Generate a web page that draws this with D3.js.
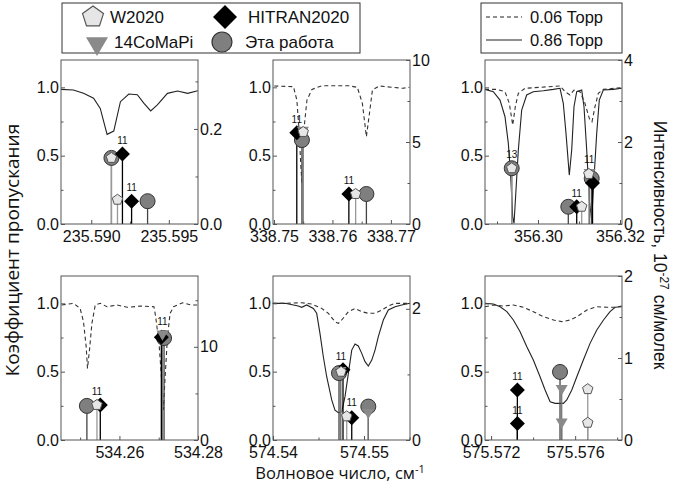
<!DOCTYPE html>
<html>
<head>
<meta charset="utf-8">
<script src="https://cdnjs.cloudflare.com/ajax/libs/d3/7.8.5/d3.min.js"></script>
<style>
  body { margin: 0; background: #fff; }
</style>
</head>
<body>
<svg id="chart" width="673" height="489"></svg>
<script>
// ---- panel 1 : 235.59 ----
const p1XRange = [235.58805, 235.59688];
const p1XTicks = [235.590, 235.595];
const p1XMinor = [235.5925];
const p1RRange = [0, 0.345];
const p1RTicks = [0, 0.2];
const p1RMinor = [0.1, 0.3];
const p1Wn = [235.58805, 235.58885, 235.5895, 235.59015, 235.59058, 235.59102, 235.59145, 235.59188, 235.59242,
  235.59297, 235.5934, 235.59383, 235.59426, 235.59491, 235.59556, 235.59621, 235.59686];
const p1Solid = [0.985, 0.980, 0.956, 0.920, 0.846, 0.656, 0.680, 0.895, 0.951, 0.946, 0.883, 0.827, 0.871,
  0.956, 0.973, 0.956, 0.975];
const p1Circle = [[235.5913, 0.139], [235.59363, 0.048]];
const p1W2020 = [[235.5913, 0.139], [235.59169, 0.051]];
const p1CoMaPi = [];
const p1Hitran = [[235.59201, 0.147], [235.5926, 0.048]];
const p1Labels = [[235.59201, 0.147, "11"], [235.5926, 0.048, "11"]];

// ---- panel 2 : 338.76 ----
const p2XRange = [338.74983, 338.77327];
const p2XTicks = [338.75, 338.76, 338.77];
const p2XMinor = [338.755, 338.765];
const p2RRange = [0, 10];
const p2RTicks = [0, 5, 10];
const p2RMinor = [2.5, 7.5];
const p2Wn = [338.75005, 338.75333, 338.75391, 338.75425, 338.7546, 338.75478, 338.7549, 338.75505, 338.75564,
  338.7565, 338.75822, 338.76052, 338.76281, 338.76426, 338.76512, 338.76581, 338.76626, 338.76684, 338.76798,
  338.77029, 338.77202, 338.77316];
const p2Dash = [1.01, 1.005, 0.907, 0.712, 0.42, 0.30, 0.42, 0.663, 0.907, 0.985, 1.012, 1.012, 1.012, 1.0,
  0.883, 0.639, 0.785, 0.98, 1.01, 1.0, 0.993, 1.0];
const p2Circle = [[338.75478, 5.12], [338.76581, 1.83]];
const p2W2020 = [[338.755, 5.61], [338.76397, 1.83]];
const p2CoMaPi = [[338.75495, 5.67]];
const p2Hitran = [[338.7539, 5.57], [338.76281, 1.83]];
const p2Labels = [[338.7539, 5.57, "11"], [338.76281, 1.83, "11"]];

// ---- panel 3 : 356.30 ----
const p3XRange = [356.28707, 356.32049];
const p3XTicks = [356.30, 356.32];
const p3XMinor = [356.29, 356.31];
const p3RRange = [0, 4];
const p3RTicks = [0, 2, 4];
const p3RMinor = [1, 3];
const p3SolidWn = [356.28707, 356.2891, 356.29073, 356.29195, 356.29276, 356.29334, 356.29383, 356.29415,
  356.29463, 356.2952, 356.29602, 356.29724, 356.29885, 356.30129, 356.30373, 356.30537, 356.30617, 356.30683,
  356.30763, 356.30822, 356.30878, 356.30944, 356.31066, 356.31122, 356.31188, 356.31251, 356.3131, 356.31349,
  356.31432, 356.31495, 356.31593, 356.31837, 356.32041];
const p3Solid = [0.985, 0.968, 0.907, 0.785, 0.590, 0.346, 0.053, 0.005, 0.249, 0.541, 0.834, 0.944, 0.968,
  0.975, 0.985, 0.993, 0.883, 0.663, 0.358, 0.541, 0.858, 0.968, 0.980, 0.858, 0.541, 0.176, 0.029, 0.249,
  0.663, 0.907, 0.980, 0.985, 0.993];
const p3DashWn = [356.28707, 356.28993, 356.29195, 356.293, 356.29383, 356.29446, 356.2952, 356.29683,
  356.30537, 356.30659, 356.3078, 356.30878, 356.31024, 356.31146, 356.31251, 356.31317, 356.3139, 356.31471,
  356.31593, 356.32041];
const p3Dash = [0.985, 0.985, 0.968, 0.883, 0.724, 0.858, 0.956, 0.993, 1.01, 0.968, 0.944, 0.98, 0.968,
  0.883, 0.773, 0.748, 0.858, 0.956, 0.985, 0.998];
const p3Circle = [[356.29359, 1.36], [356.30739, 0.42], [356.3131, 1.11]];
const p3W2020 = [[356.29359, 1.36], [356.31066, 0.42], [356.3124, 1.22]];
const p3CoMaPi = [[356.3126, 1.24]];
const p3Hitran = [[356.30944, 0.42], [356.3133, 1.0]];
const p3Labels = [[356.29359, 1.36, "13"], [356.30944, 0.42, "11"], [356.3125, 1.24, "11"]];

// ---- panel 4 : 534.26 ----
const p4XRange = [534.24513, 534.28];
const p4XTicks = [534.26, 534.28];
const p4XMinor = [534.25, 534.27];
const p4RRange = [0, 17.6];
const p4RTicks = [0, 10];
const p4RMinor = [5, 15];
const p4Wn = [534.24531, 534.24828, 534.25, 534.25085, 534.25154, 534.25187, 534.25238, 534.253, 534.25385,
  534.25513, 534.25685, 534.25941, 534.26197, 534.26538, 534.26879, 534.26923, 534.27008, 534.27069, 534.2712,
  534.27154, 534.27223, 534.2729, 534.27377, 534.27608, 534.2782, 534.27992];
const p4Dash = [0.988, 1.0, 0.963, 0.866, 0.683, 0.524, 0.658, 0.853, 0.988, 1.0, 0.975, 0.988, 0.971, 0.98,
  0.975, 0.902, 0.707, 0.463, 0.219, 0.415, 0.756, 0.927, 0.975, 1.004, 0.988, 0.988];
const p4Circle = [[534.25172, 3.66], [534.27136, 10.94]];
const p4W2020 = [[534.25428, 3.76]];
const p4CoMaPi = [[534.27095, 11.29]];
const p4Hitran = [[534.25513, 3.76], [534.27067, 11.04]];
const p4Labels = [[534.25428, 3.76, "11"], [534.27095, 11.29, "11"]];

// ---- panel 5 : 574.55 ----
const p5XRange = [574.54, 574.55505];
const p5XTicks = [574.54, 574.55];
const p5XMinor = [574.545, 574.555];
const p5RRange = [0, 2.5];
const p5RTicks = [0, 2];
const p5RMinor = [1];
const p5SolidWn = [574.53997, 574.54132, 574.54278, 574.54315, 574.5437, 574.54443, 574.5448, 574.54516,
  574.54553, 574.5459, 574.54645, 574.54681, 574.54718, 574.54755, 574.54791, 574.54828, 574.54865, 574.54901,
  574.54937, 574.54975, 574.55011, 574.55047, 574.55085, 574.55121, 574.55157, 574.55212, 574.55267, 574.55341,
  574.55414, 574.55505];
const p5Solid = [1.0, 1.0, 0.98, 0.971, 0.988, 0.963, 0.927, 0.78, 0.609, 0.463, 0.293, 0.219, 0.2, 0.207,
  0.317, 0.488, 0.658, 0.702, 0.688, 0.634, 0.573, 0.541, 0.585, 0.658, 0.756, 0.878, 0.951, 0.975, 0.988, 1.0];
const p5DashWn = [574.53997, 574.54132, 574.54315, 574.54425, 574.54535, 574.54608, 574.54681, 574.54718,
  574.54755, 574.54828, 574.54901, 574.54975, 574.55047, 574.55121, 574.55194, 574.55267, 574.55341, 574.55505];
const p5Dash = [1.0, 1.0, 1.004, 0.995, 0.963, 0.927, 0.866, 0.853, 0.878, 0.939, 0.963, 0.939, 0.927, 0.927,
  0.951, 0.98, 1.0, 1.0];
const p5Circle = [[574.54725, 1.02], [574.55047, 0.51]];
const p5W2020 = [[574.54747, 1.04], [574.5481, 0.36]];
const p5CoMaPi = [[574.5474, 1.05], [574.55047, 0.41]];
const p5Hitran = [[574.54769, 1.07], [574.54865, 0.34]];
const p5Labels = [[574.54747, 1.07, "11"], [574.54865, 0.36, "11"]];

// ---- panel 6 : 575.575 ----
const p6XRange = [575.57171, 575.57823];
const p6XTicks = [575.572, 575.576];
const p6XMinor = [575.574, 575.578];
const p6RRange = [0, 2];
const p6RTicks = [0, 1, 2];
const p6RMinor = [0.5, 1.5];
const p6SolidWn = [575.57171, 575.57211, 575.57243, 575.57275, 575.57306, 575.57338, 575.5737, 575.57401,
  575.57433, 575.57457, 575.57481, 575.57505, 575.57544, 575.5756, 575.57584, 575.57608, 575.57639, 575.57671,
  575.57703, 575.57735, 575.57766, 575.5779, 575.57822];
const p6Solid = [1.0, 0.995, 0.975, 0.939, 0.878, 0.792, 0.683, 0.585, 0.463, 0.366, 0.28, 0.268, 0.268, 0.293,
  0.366, 0.463, 0.585, 0.707, 0.805, 0.878, 0.939, 0.971, 0.975];
const p6DashWn = [575.57171, 575.57211, 575.57259, 575.57306, 575.57354, 575.57401, 575.57449, 575.57497,
  575.57537, 575.57576, 575.57608, 575.57656, 575.57703, 575.57751, 575.5779, 575.57822];
const p6Dash = [0.975, 0.988, 0.98, 0.988, 0.971, 0.939, 0.902, 0.878, 0.866, 0.878, 0.902, 0.951, 0.975,
  0.971, 0.971, 0.98];
const p6Circle = [[575.57528, 0.83]];
const p6W2020 = [[575.5766, 0.62], [575.5766, 0.21]];
const p6CoMaPi = [[575.57536, 0.62], [575.57536, 0.21]];
const p6Hitran = [[575.57325, 0.61], [575.57325, 0.20]];
const p6Labels = [[575.57325, 0.61, "11"], [575.57325, 0.20, "11"]];

const transTicks = [0, 0.5, 1.0];
const transMinor = [0.25, 0.75];
const legendNames = ["W2020", "HITRAN2020", "14CoMaPi", "Эта работа"];
const pressureNames = ["0.06 Торр", "0.86 Торр"];

const svg = d3.select("#chart");
const tickFont = "'Liberation Sans', Arial, sans-serif";
const labelFont = "'Open Sans', 'Noto Sans', sans-serif";

const panels = [
  { left: 61, top: 60, xDom: p1XRange, xT: p1XTicks, xM: p1XMinor, xF: ".3f", rDom: p1RRange, rT: p1RTicks, rM: p1RMinor, rF: ".1f",
    lines: [[p1Wn, p1Solid, false]], c: p1Circle, w: p1W2020, t: p1CoMaPi, h: p1Hitran, lab: p1Labels },
  { left: 273, top: 60, xDom: p2XRange, xT: p2XTicks, xM: p2XMinor, xF: ".2f", rDom: p2RRange, rT: p2RTicks, rM: p2RMinor, rF: "d",
    lines: [[p2Wn, p2Dash, true]], c: p2Circle, w: p2W2020, t: p2CoMaPi, h: p2Hitran, lab: p2Labels },
  { left: 485, top: 60, xDom: p3XRange, xT: p3XTicks, xM: p3XMinor, xF: ".2f", rDom: p3RRange, rT: p3RTicks, rM: p3RMinor, rF: "d",
    lines: [[p3SolidWn, p3Solid, false], [p3DashWn, p3Dash, true]], c: p3Circle, w: p3W2020, t: p3CoMaPi, h: p3Hitran, lab: p3Labels },
  { left: 61, top: 276, xDom: p4XRange, xT: p4XTicks, xM: p4XMinor, xF: ".2f", rDom: p4RRange, rT: p4RTicks, rM: p4RMinor, rF: "d",
    lines: [[p4Wn, p4Dash, true]], c: p4Circle, w: p4W2020, t: p4CoMaPi, h: p4Hitran, lab: p4Labels },
  { left: 273, top: 276, xDom: p5XRange, xT: p5XTicks, xM: p5XMinor, xF: ".2f", rDom: p5RRange, rT: p5RTicks, rM: p5RMinor, rF: "d",
    lines: [[p5SolidWn, p5Solid, false], [p5DashWn, p5Dash, true]], c: p5Circle, w: p5W2020, t: p5CoMaPi, h: p5Hitran, lab: p5Labels },
  { left: 485, top: 276, xDom: p6XRange, xT: p6XTicks, xM: p6XMinor, xF: ".3f", rDom: p6RRange, rT: p6RTicks, rM: p6RMinor, rF: "d",
    lines: [[p6SolidWn, p6Solid, false], [p6DashWn, p6Dash, true]], c: p6Circle, w: p6W2020, t: p6CoMaPi, h: p6Hitran, lab: p6Labels }
];
const PW = 137, PH = 164;

function pentagon(r) {
  const pts = d3.range(5).map(i => {
    const a = -Math.PI / 2 + i * 2 * Math.PI / 5;
    return [r * Math.cos(a), r * Math.sin(a)];
  });
  return "M" + pts.map(p => p[0].toFixed(2) + "," + p[1].toFixed(2)).join("L") + "Z";
}
function diamond(r) { return `M0,${-r}L${r},0L0,${r}L${-r},0Z`; }
function triDown(r) { return `M${-r},${-r * 0.7}L${r},${-r * 0.7}L0,${r}Z`; }

const markStyle = {
  c: { stem: "#444", fill: "#7f7f7f", stroke: "#333" },
  h: { stem: "#000", fill: "#000", stroke: "#000" },
  t: { stem: "#777", fill: "#8a8a8a", stroke: "#8a8a8a" },
  w: { stem: "#999", fill: "#e6e6e6", stroke: "#555" }
};

panels.forEach(p => {
  const x = d3.scaleLinear().domain(p.xDom).range([p.left, p.left + PW]);
  const yL = d3.scaleLinear().domain([0, 1.2]).range([p.top + PH, p.top]);
  const yR = d3.scaleLinear().domain(p.rDom).range([p.top + PH, p.top]);
  const g = svg.append("g");

  // transmission curves
  p.lines.forEach(([xs, ys, dashed]) => {
    const line = d3.line().x((d, i) => x(xs[i])).y(d => yL(d));
    g.append("path").datum(ys).attr("d", line)
      .attr("fill", "none").attr("stroke", dashed ? "#333" : "#222")
      .attr("stroke-width", 1.1)
      .attr("stroke-dasharray", dashed ? "4,3" : null);
  });

  // stems
  ["c", "w", "t", "h"].forEach(k => {
    g.selectAll(null).data(p[k]).enter().append("line")
      .attr("x1", d => x(d[0])).attr("x2", d => x(d[0]))
      .attr("y1", yR(0)).attr("y2", d => yR(d[1]))
      .attr("stroke", markStyle[k].stem).attr("stroke-width", 1.3);
  });

  // markers
  g.selectAll(null).data(p.c).enter().append("circle")
    .attr("cx", d => x(d[0])).attr("cy", d => yR(d[1])).attr("r", 7.5)
    .attr("fill", markStyle.c.fill).attr("stroke", markStyle.c.stroke).attr("stroke-width", 1);
  g.selectAll(null).data(p.h).enter().append("path")
    .attr("d", diamond(7.5)).attr("transform", d => `translate(${x(d[0])},${yR(d[1])})`)
    .attr("fill", "#000");
  g.selectAll(null).data(p.t).enter().append("path")
    .attr("d", triDown(6)).attr("transform", d => `translate(${x(d[0])},${yR(d[1])})`)
    .attr("fill", markStyle.t.fill);
  g.selectAll(null).data(p.w).enter().append("path")
    .attr("d", pentagon(5.5)).attr("transform", d => `translate(${x(d[0])},${yR(d[1])})`)
    .attr("fill", markStyle.w.fill).attr("stroke", markStyle.w.stroke).attr("stroke-width", 1);

  g.selectAll(null).data(p.lab).enter().append("text")
    .attr("x", d => x(d[0])).attr("y", d => yR(d[1]) - 10)
    .attr("text-anchor", "middle")
    .attr("font-family", tickFont).attr("font-size", 10).attr("fill", "#111")
    .text(d => d[2]);

  // frame
  g.append("rect").attr("x", p.left).attr("y", p.top).attr("width", PW).attr("height", PH)
    .attr("fill", "none").attr("stroke", "#555").attr("stroke-width", 1);

  // axes
  g.append("g").attr("transform", `translate(0,${p.top + PH})`)
    .call(d3.axisBottom(x).tickValues(p.xT).tickSize(-4).tickSizeOuter(0).tickPadding(7).tickFormat(d3.format(p.xF)));
  g.append("g").attr("transform", `translate(0,${p.top + PH})`)
    .call(d3.axisBottom(x).tickValues(p.xM).tickSize(-2.5).tickSizeOuter(0).tickFormat(""));
  g.append("g").attr("transform", `translate(${p.left},0)`)
    .call(d3.axisLeft(yL).tickValues(transTicks).tickSize(-4).tickSizeOuter(0).tickPadding(2).tickFormat(d3.format(".1f")));
  g.append("g").attr("transform", `translate(${p.left},0)`)
    .call(d3.axisLeft(yL).tickValues(transMinor).tickSize(-2.5).tickSizeOuter(0).tickFormat(""));
  g.append("g").attr("transform", `translate(${p.left + PW},0)`)
    .call(d3.axisRight(yR).tickValues(p.rT).tickSize(-4).tickSizeOuter(0).tickPadding(2).tickFormat(d3.format(p.rF)));
  g.append("g").attr("transform", `translate(${p.left + PW},0)`)
    .call(d3.axisRight(yR).tickValues(p.rM).tickSize(-2.5).tickSizeOuter(0).tickFormat(""));
  g.selectAll(".domain").remove();
  g.selectAll(".tick line").attr("stroke", "#555");
  g.selectAll(".tick text").attr("font-family", tickFont).attr("font-size", 16).attr("fill", "#111");
});

// axis titles
svg.append("text")
  .attr("transform", "translate(19,250) rotate(-90)")
  .attr("text-anchor", "middle").attr("font-family", labelFont).attr("font-size", 19).attr("fill", "#111")
  .text("Коэффициент пропускания");

const rt = svg.append("text")
  .attr("transform", "translate(654,245) rotate(90)")
  .attr("text-anchor", "middle").attr("font-family", tickFont).attr("font-size", 17.5).attr("fill", "#111");
rt.append("tspan").text("Интенсивность, 10");
rt.append("tspan").attr("dy", -6).attr("font-size", 12).text("-27");
rt.append("tspan").attr("dy", 6).text(" см/молек");

const xt = svg.append("text")
  .attr("x", 340).attr("y", 479)
  .attr("text-anchor", "middle").attr("font-family", labelFont).attr("font-size", 16.5).attr("fill", "#111");
xt.append("tspan").text("Волновое число, см");
xt.append("tspan").attr("dy", -6).attr("font-size", 11).text("-1");

// legend 1
const lg = svg.append("g");
lg.append("rect").attr("x", 62).attr("y", 3).attr("width", 298).attr("height", 50)
  .attr("fill", "#fff").attr("stroke", "#333").attr("stroke-width", 1);
const legPos = [[93, 17], [225, 17], [97, 42], [222, 42]];
lg.append("path").attr("d", pentagon(11)).attr("transform", `translate(${legPos[0][0]},${legPos[0][1]})`)
  .attr("fill", markStyle.w.fill).attr("stroke", markStyle.w.stroke).attr("stroke-width", 1.2);
lg.append("path").attr("d", diamond(12)).attr("transform", `translate(${legPos[1][0]},${legPos[1][1]})`)
  .attr("fill", "#000");
lg.append("path").attr("d", triDown(11)).attr("transform", `translate(${legPos[2][0]},${legPos[2][1] + 3})`)
  .attr("fill", markStyle.t.fill);
lg.append("circle").attr("cx", legPos[3][0]).attr("cy", legPos[3][1]).attr("r", 10)
  .attr("fill", markStyle.c.fill).attr("stroke", "#333").attr("stroke-width", 1.2);
legendNames.forEach((n, i) => {
  lg.append("text").attr("x", legPos[i][0] + (i % 2 ? 23 : 17)).attr("y", legPos[i][1] + 6)
    .attr("font-family", tickFont).attr("font-size", 17).attr("fill", "#111").text(n);
});

// legend 2
const lg2 = svg.append("g");
lg2.append("rect").attr("x", 481).attr("y", 3).attr("width", 141).attr("height", 50)
  .attr("fill", "#fff").attr("stroke", "#333").attr("stroke-width", 1);
pressureNames.forEach((n, i) => {
  const yy = 17 + i * 23;
  lg2.append("line").attr("x1", 486).attr("x2", 522).attr("y1", yy).attr("y2", yy)
    .attr("stroke", "#222").attr("stroke-width", 1.1).attr("stroke-dasharray", i === 0 ? "4,3" : null);
  lg2.append("text").attr("x", 530).attr("y", yy + 6)
    .attr("font-family", tickFont).attr("font-size", 16.5).attr("fill", "#111").text(n);
});
</script>
</body>
</html>
